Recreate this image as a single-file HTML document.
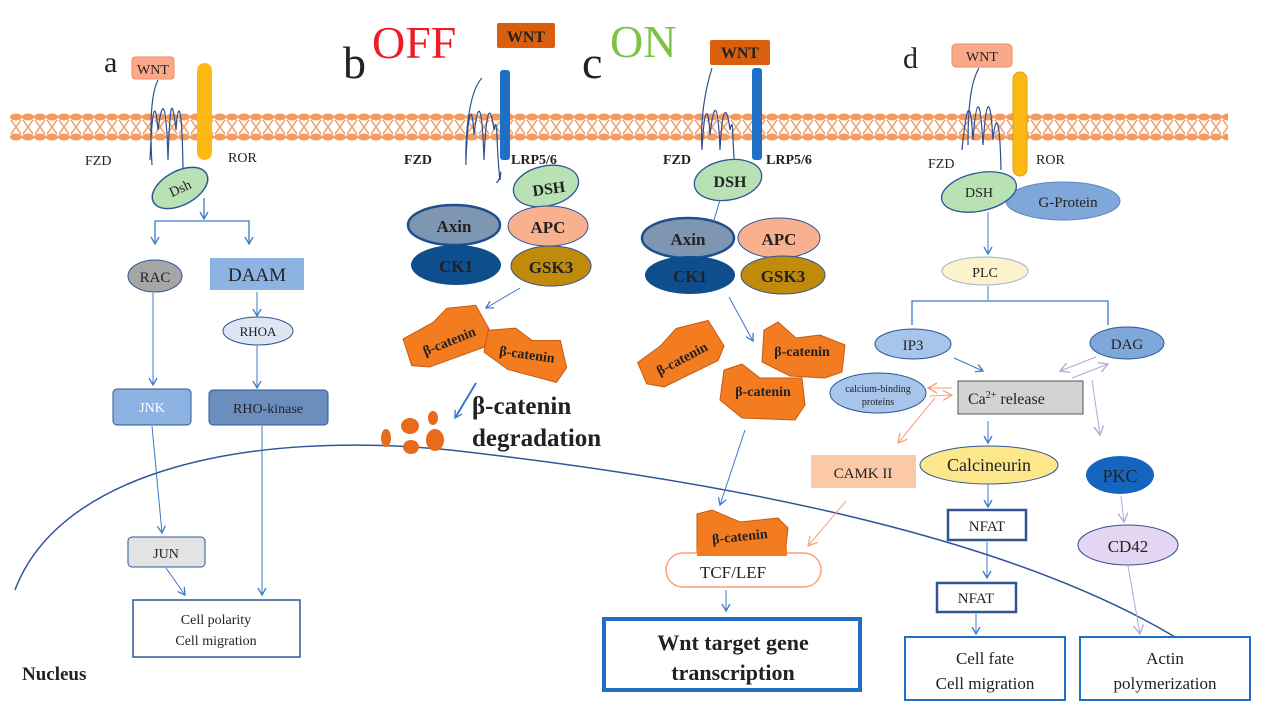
<!DOCTYPE html>
<html><head><meta charset="utf-8"><style>
html,body{margin:0;padding:0;background:#fff}
svg{display:block}
text{font-family:"Liberation Serif",serif;fill:#222}
.b{font-weight:bold}
</style></head><body>
<svg width="1269" height="720" viewBox="0 0 1269 720" xmlns="http://www.w3.org/2000/svg">
<defs>
<pattern id="mem" x="10" y="110" width="12" height="34" patternUnits="userSpaceOnUse">
<ellipse cx="6" cy="7" rx="6" ry="3.5" fill="#f59a5e"/>
<ellipse cx="6" cy="27" rx="6" ry="3.5" fill="#f59a5e"/>
<path d="M1 10 L11 24 M11 10 L1 24" stroke="#f59a5e" stroke-width="1.5" fill="none"/>
</pattern>
<marker id="ab" markerWidth="10" markerHeight="10" refX="8" refY="5" orient="auto" markerUnits="userSpaceOnUse"><path d="M1 1 L8 5 L1 9" fill="none" stroke="#3a78c9" stroke-width="1.3"/></marker>
<marker id="ao" markerWidth="12" markerHeight="12" refX="10" refY="6" orient="auto" markerUnits="userSpaceOnUse"><path d="M1 1 L10 6 L1 11" fill="none" stroke="#f6a27a" stroke-width="1.3"/></marker>
<marker id="ap" markerWidth="12" markerHeight="12" refX="10" refY="6" orient="auto" markerUnits="userSpaceOnUse"><path d="M1 1 L10 6 L1 11" fill="none" stroke="#b9a3d6" stroke-width="1.3"/></marker>
</defs>

<rect x="10" y="110" width="1218" height="34" fill="url(#mem)"/>

<path d="M15,590 C60,470 250,430 450,450 C700,478 1000,530 1180,640" fill="none" stroke="#2f5597" stroke-width="1.5"/>
<text x="22" y="680" class="b" font-size="19">Nucleus</text>

<!-- a -->
<text x="104" y="72" font-size="30">a</text>
<rect x="132" y="57" width="42" height="22" rx="3" fill="#f9a98a" stroke="#f08a60"/>
<text x="153" y="74" font-size="14" text-anchor="middle">WNT</text>
<rect x="197" y="63" width="15" height="97" rx="7.5" fill="#fdb913"/>
<path d="M158,80 C150,95 150,130 152,165 M150,160 C152,110 155,95 158,130 C162,100 166,95 168,160 C170,100 172,95 176,130 C178,100 182,100 183,170" fill="none" stroke="#2f4f8f" stroke-width="1.2"/>
<text x="85" y="165" font-size="14">FZD</text>
<text x="228" y="162" font-size="14">ROR</text>
<ellipse cx="180" cy="188" rx="30" ry="17" transform="rotate(-28 180 188)" fill="#b9e2b4" stroke="#2f5597" stroke-width="1.5"/>
<text x="180" y="193" font-size="14" text-anchor="middle" transform="rotate(-25 180 188)">Dsh</text>
<line x1="204" y1="198" x2="204" y2="219" stroke="#3a78c9" stroke-width="1.3" marker-end="url(#ab)"/>
<path d="M155,242 V221 H249 V242" fill="none" stroke="#3a78c9" stroke-width="1.3"/>
<line x1="155" y1="230" x2="155" y2="244" stroke="#3a78c9" marker-end="url(#ab)"/>
<line x1="249" y1="230" x2="249" y2="244" stroke="#3a78c9" marker-end="url(#ab)"/>
<ellipse cx="155" cy="276" rx="27" ry="16" fill="#a6a6a6" stroke="#2f5597"/>
<text x="155" y="282" font-size="15" text-anchor="middle">RAC</text>
<rect x="210" y="258" width="94" height="32" fill="#8db3e2"/>
<text x="257" y="281" font-size="19" text-anchor="middle">DAAM</text>
<line x1="257" y1="292" x2="257" y2="316" stroke="#3a78c9" marker-end="url(#ab)"/>
<ellipse cx="258" cy="331" rx="35" ry="14" fill="#dde6f2" stroke="#2f5597"/>
<text x="258" y="336" font-size="13" text-anchor="middle">RHOA</text>
<line x1="257" y1="346" x2="257" y2="388" stroke="#3a78c9" marker-end="url(#ab)"/>
<line x1="153" y1="293" x2="153" y2="385" stroke="#3a78c9" marker-end="url(#ab)"/>
<rect x="113" y="389" width="78" height="36" rx="4" fill="#8db3e2" stroke="#2f5597"/>
<text x="152" y="412" font-size="14" text-anchor="middle" style="fill:#fff">JNK</text>
<rect x="209" y="390" width="119" height="35" rx="4" fill="#6c8ebf" stroke="#2f5597"/>
<text x="268" y="413" font-size="14" text-anchor="middle">RHO-kinase</text>
<line x1="152" y1="426" x2="162" y2="533" stroke="#3a78c9" marker-end="url(#ab)"/>
<line x1="262" y1="426" x2="262" y2="595" stroke="#3a78c9" marker-end="url(#ab)"/>
<rect x="128" y="537" width="77" height="30" rx="4" fill="#e3e3e3" stroke="#2f5597"/>
<text x="166" y="558" font-size="14" text-anchor="middle">JUN</text>
<line x1="166" y1="568" x2="185" y2="595" stroke="#3a78c9" marker-end="url(#ab)"/>
<rect x="133" y="600" width="167" height="57" fill="#fff" stroke="#2f5597" stroke-width="1.5"/>
<text x="216" y="624" font-size="14" text-anchor="middle">Cell polarity</text>
<text x="216" y="645" font-size="14" text-anchor="middle">Cell migration</text>

<!-- b -->
<text x="343" y="78" font-size="46">b</text>
<text x="372" y="58" font-size="46" style="fill:#ee1c25">OFF</text>
<rect x="497" y="23" width="58" height="25" rx="2" fill="#d95f0e"/>
<text x="526" y="42" class="b" font-size="16" text-anchor="middle">WNT</text>
<rect x="500" y="70" width="10" height="90" rx="3" fill="#1f6fc5"/>
<path d="M482,78 C470,90 465,130 466,165 M466,160 C468,110 472,100 474,135 C478,100 482,100 484,160 C486,110 490,100 494,130 C498,110 496,150 500,180 C502,160 500,185 496,182" fill="none" stroke="#2f4f8f" stroke-width="1.2"/>
<text x="404" y="164" class="b" font-size="14">FZD</text>
<text x="511" y="164" class="b" font-size="14">LRP5/6</text>
<ellipse cx="546" cy="186" rx="33" ry="20" transform="rotate(-12 546 186)" fill="#b9e2b4" stroke="#2f5597" stroke-width="1.3"/>
<text x="549" y="194" class="b" font-size="16" text-anchor="middle" transform="rotate(-8 549 190)">DSH</text>
<ellipse cx="454" cy="225" rx="46" ry="20" fill="#7f96b2" stroke="#1f4e8c" stroke-width="2.5"/>
<text x="454" y="232" class="b" font-size="17" text-anchor="middle">Axin</text>
<ellipse cx="548" cy="226" rx="40" ry="20" fill="#f9b08e" stroke="#2f5597"/>
<text x="548" y="233" class="b" font-size="17" text-anchor="middle">APC</text>
<ellipse cx="456" cy="265" rx="45" ry="20" fill="#0f4e8c"/>
<text x="456" y="272" class="b" font-size="17" text-anchor="middle">CK1</text>
<ellipse cx="551" cy="266" rx="40" ry="20" fill="#c08a0a" stroke="#2f5597"/>
<text x="551" y="273" class="b" font-size="17" text-anchor="middle">GSK3</text>
<line x1="520" y1="288" x2="486" y2="308" stroke="#3a78c9" marker-end="url(#ab)"/>
<g transform="rotate(-22 448 338)"><path d="M406,322 L440,318 L458,310 L486,318 L490,350 L478,360 L420,358 L404,350 Z" fill="#f47c20" stroke="#c55a11"/>
<text x="448" y="346" class="b" font-size="14" text-anchor="middle">β-catenin</text></g>
<g transform="rotate(8 527 355)"><path d="M485,336 L512,330 L530,340 L558,336 L568,362 L560,378 L510,372 L484,358 Z" fill="#f47c20" stroke="#c55a11"/>
<text x="527" y="359" class="b" font-size="14" text-anchor="middle">β-catenin</text></g>
<line x1="476" y1="383" x2="455" y2="418" stroke="#3a78c9" stroke-width="2" marker-end="url(#ab)"/>
<ellipse cx="386" cy="438" rx="5" ry="9" fill="#e86a1a"/>
<ellipse cx="410" cy="426" rx="9" ry="8" fill="#e86a1a"/>
<ellipse cx="411" cy="447" rx="8" ry="7" fill="#e86a1a"/>
<ellipse cx="435" cy="440" rx="9" ry="11" fill="#e86a1a"/>
<ellipse cx="433" cy="418" rx="5" ry="7" fill="#e86a1a"/>
<text x="472" y="414" class="b" font-size="25">β-catenin</text>
<text x="472" y="446" class="b" font-size="25">degradation</text>

<!-- c -->
<text x="582" y="78" font-size="46">c</text>
<text x="610" y="57" font-size="46" style="fill:#7dc242">ON</text>
<rect x="710" y="40" width="60" height="25" rx="2" fill="#d95f0e"/>
<text x="740" y="58" class="b" font-size="16" text-anchor="middle">WNT</text>
<rect x="752" y="68" width="10" height="92" rx="3" fill="#1f6fc5"/>
<path d="M712,68 C705,90 700,120 702,150 M702,150 C704,110 708,100 710,135 C714,100 718,100 720,150 C722,110 726,100 730,130 C734,110 732,150 735,165" fill="none" stroke="#2f4f8f" stroke-width="1.2"/>
<text x="663" y="164" class="b" font-size="14">FZD</text>
<text x="766" y="164" class="b" font-size="14">LRP5/6</text>
<ellipse cx="728" cy="180" rx="34" ry="20" transform="rotate(-10 728 180)" fill="#b9e2b4" stroke="#2f5597" stroke-width="1.3"/>
<text x="730" y="187" class="b" font-size="16" text-anchor="middle">DSH</text>
<line x1="720" y1="200" x2="714" y2="220" stroke="#3a78c9"/>
<ellipse cx="688" cy="238" rx="46" ry="20" fill="#7f96b2" stroke="#1f4e8c" stroke-width="2.5"/>
<text x="688" y="245" class="b" font-size="17" text-anchor="middle">Axin</text>
<ellipse cx="779" cy="238" rx="41" ry="20" fill="#f9b08e" stroke="#2f5597"/>
<text x="779" y="245" class="b" font-size="17" text-anchor="middle">APC</text>
<ellipse cx="690" cy="275" rx="45" ry="19" fill="#0f4e8c"/>
<text x="690" y="282" class="b" font-size="17" text-anchor="middle">CK1</text>
<ellipse cx="783" cy="275" rx="42" ry="19" fill="#c08a0a" stroke="#2f5597"/>
<text x="783" y="282" class="b" font-size="17" text-anchor="middle">GSK3</text>
<line x1="729" y1="297" x2="753" y2="341" stroke="#3a78c9" marker-end="url(#ab)"/>
<g transform="rotate(-28 680 357)"><path d="M640,342 L668,338 L690,330 L722,338 L724,368 L712,378 L652,376 L638,365 Z" fill="#f47c20" stroke="#c55a11"/>
<text x="681" y="364" class="b" font-size="14" text-anchor="middle">β-catenin</text></g>
<path d="M764,330 L778,322 L796,338 L820,335 L845,345 L842,372 L825,378 L790,376 L762,362 Z" fill="#f47c20" stroke="#c55a11"/>
<text x="802" y="356" class="b" font-size="14" text-anchor="middle">β-catenin</text>
<path d="M724,370 L742,364 L760,378 L802,378 L805,405 L795,420 L742,418 L720,400 Z" fill="#f47c20" stroke="#c55a11"/>
<text x="763" y="396" class="b" font-size="14" text-anchor="middle">β-catenin</text>
<line x1="745" y1="430" x2="720" y2="505" stroke="#3a78c9" marker-end="url(#ab)"/>
<path d="M697,514 L712,510 L740,522 L778,518 L788,528 L785,555 L770,560 L715,558 L697,552 Z" fill="#f47c20" stroke="#c55a11"/>
<text x="740" y="541" class="b" font-size="14" text-anchor="middle" transform="rotate(-6 740 538)">β-catenin</text>
<line x1="846" y1="501" x2="808" y2="546" stroke="#f6a27a" marker-end="url(#ao)"/>
<rect x="666" y="553" width="155" height="34" rx="17" fill="#fff" stroke="#f6a27a" stroke-width="1.5"/>
<rect x="697" y="548" width="90" height="8" fill="#f47c20"/>
<text x="733" y="578" font-size="17" text-anchor="middle">TCF/LEF</text>
<line x1="726" y1="590" x2="726" y2="611" stroke="#3a78c9" marker-end="url(#ab)"/>
<rect x="604" y="619" width="256" height="71" fill="#fff" stroke="#1f6fc5" stroke-width="4"/>
<text x="733" y="650" class="b" font-size="22" text-anchor="middle">Wnt target gene</text>
<text x="733" y="680" class="b" font-size="22" text-anchor="middle">transcription</text>

<!-- d -->
<text x="903" y="68" font-size="30">d</text>
<rect x="952" y="44" width="60" height="23" rx="4" fill="#f9a98a" stroke="#f08a60"/>
<text x="982" y="61" font-size="14" text-anchor="middle">WNT</text>
<rect x="1013" y="72" width="14" height="104" rx="7" fill="#fdb913" stroke="#e0a000"/>
<path d="M979,68 C972,80 968,100 968,145 M962,150 C966,110 970,90 973,140 C976,100 980,90 983,145 C986,100 990,90 993,140 C996,110 1000,120 1001,170" fill="none" stroke="#2f4f8f" stroke-width="1.2"/>
<text x="928" y="168" font-size="14">FZD</text>
<text x="1036" y="164" font-size="14">ROR</text>
<ellipse cx="1063" cy="201" rx="57" ry="19" fill="#7fa7d9" stroke="#5b86c0"/>
<text x="1068" y="207" font-size="15" text-anchor="middle">G-Protein</text>
<ellipse cx="979" cy="192" rx="38" ry="19" transform="rotate(-12 979 192)" fill="#b9e2b4" stroke="#2f5597" stroke-width="1.3"/>
<text x="979" y="197" font-size="14" text-anchor="middle">DSH</text>
<line x1="988" y1="212" x2="988" y2="254" stroke="#3a78c9" marker-end="url(#ab)"/>
<ellipse cx="985" cy="271" rx="43" ry="14" fill="#fdf2cc" stroke="#9db3d0"/>
<text x="985" y="277" font-size="14" text-anchor="middle">PLC</text>
<line x1="988" y1="286" x2="988" y2="300" stroke="#3a78c9"/>
<path d="M912,325 V301 H1108 V325" fill="none" stroke="#3a78c9" stroke-width="1.3"/>
<ellipse cx="913" cy="344" rx="38" ry="15" fill="#a7c4ea" stroke="#2f5597"/>
<text x="913" y="350" font-size="15" text-anchor="middle">IP3</text>
<ellipse cx="1127" cy="343" rx="37" ry="16" fill="#7fa7d9" stroke="#2f5597"/>
<text x="1127" y="349" font-size="15" text-anchor="middle">DAG</text>
<line x1="954" y1="358" x2="983" y2="371" stroke="#3a78c9" marker-end="url(#ab)"/>
<line x1="1096" y1="357" x2="1060" y2="371" stroke="#b9a3d6" marker-end="url(#ap)"/>
<line x1="1072" y1="378" x2="1108" y2="364" stroke="#b9a3d6" marker-end="url(#ap)"/>
<line x1="1092" y1="380" x2="1100" y2="435" stroke="#b9a3d6" marker-end="url(#ap)"/>
<rect x="958" y="381" width="125" height="33" fill="#d3d3d3" stroke="#555"/>
<text x="968" y="404" font-size="16">Ca<tspan font-size="10" dy="-6">2+</tspan><tspan dy="6"> release</tspan></text>
<ellipse cx="878" cy="393" rx="48" ry="20" fill="#a7c4ea" stroke="#2f5597"/>
<text x="878" y="392" font-size="10" text-anchor="middle">calcium-binding</text>
<text x="878" y="405" font-size="10" text-anchor="middle">proteins</text>
<line x1="952" y1="388" x2="928" y2="388" stroke="#f6a27a" marker-end="url(#ao)"/>
<line x1="930" y1="396" x2="952" y2="395" stroke="#f6a27a" marker-end="url(#ao)"/>
<line x1="935" y1="398" x2="898" y2="443" stroke="#f6a27a" marker-end="url(#ao)"/>
<rect x="811" y="455" width="105" height="33" fill="#fcc9a8"/>
<text x="863" y="478" font-size="15" text-anchor="middle">CAMK II</text>
<line x1="988" y1="421" x2="988" y2="443" stroke="#3a78c9" marker-end="url(#ab)"/>
<ellipse cx="989" cy="465" rx="69" ry="19" fill="#fce88a" stroke="#2f5597"/>
<text x="989" y="471" font-size="18" text-anchor="middle">Calcineurin</text>
<ellipse cx="1120" cy="475" rx="34" ry="19" fill="#1565c0"/>
<text x="1120" y="482" font-size="18" text-anchor="middle">PKC</text>
<line x1="988" y1="485" x2="988" y2="507" stroke="#3a78c9" marker-end="url(#ab)"/>
<rect x="948" y="510" width="78" height="30" fill="#fff" stroke="#2f5597" stroke-width="2.5"/>
<text x="987" y="531" font-size="15" text-anchor="middle">NFAT</text>
<line x1="1121" y1="496" x2="1124" y2="522" stroke="#b9a3d6" marker-end="url(#ap)"/>
<ellipse cx="1128" cy="545" rx="50" ry="20" fill="#e4d6f2" stroke="#2f5597"/>
<text x="1128" y="552" font-size="17" text-anchor="middle">CD42</text>
<line x1="987" y1="542" x2="987" y2="578" stroke="#3a78c9" marker-end="url(#ab)"/>
<rect x="937" y="583" width="79" height="29" fill="#fff" stroke="#2f5597" stroke-width="2.5"/>
<text x="976" y="603" font-size="15" text-anchor="middle">NFAT</text>
<line x1="976" y1="614" x2="976" y2="634" stroke="#3a78c9" marker-end="url(#ab)"/>
<line x1="1128" y1="566" x2="1140" y2="634" stroke="#b9a3d6" marker-end="url(#ap)"/>
<rect x="905" y="637" width="160" height="63" fill="#fff" stroke="#1f6fc5" stroke-width="2"/>
<text x="985" y="664" font-size="17" text-anchor="middle">Cell fate</text>
<text x="985" y="689" font-size="17" text-anchor="middle">Cell migration</text>
<rect x="1080" y="637" width="170" height="63" fill="#fff" stroke="#1f6fc5" stroke-width="2"/>
<text x="1165" y="664" font-size="17" text-anchor="middle">Actin</text>
<text x="1165" y="689" font-size="17" text-anchor="middle">polymerization</text>
</svg>
</body></html>
